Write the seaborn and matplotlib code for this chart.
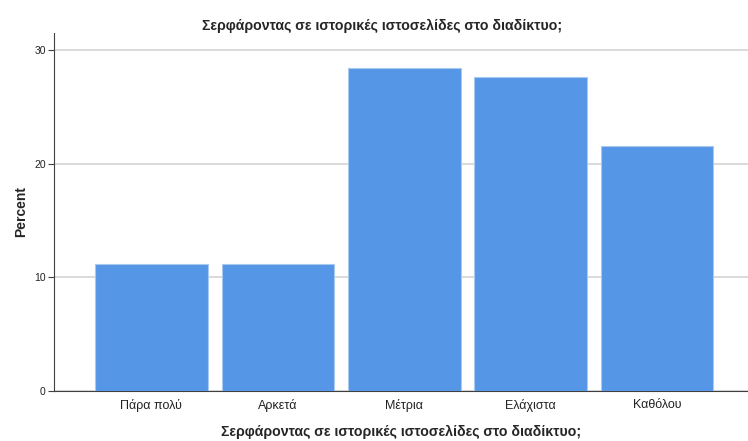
import pandas as pd
import matplotlib
matplotlib.use('Agg')
import matplotlib.pyplot as plt
import seaborn as sns

categories = ['Πάρα πολύ', 'Αρκετά', 'Μέτρια', 'Ελάχιστα', 'Καθόλου']
percent = [11.2, 11.2, 28.4, 27.6, 21.6]
yticks = [0, 10, 20, 30]
title = 'Σερφάροντας σε ιστορικές ιστοσελίδες στο διαδίκτυο;'

sns.set_theme(style='white')
plt.rcParams['font.family'] = ['Liberation Sans', 'DejaVu Sans']

df = pd.DataFrame({'answer': categories, 'percent': percent})

fig = plt.figure(figsize=(7.48, 4.41), dpi=100)
ax = fig.add_axes([0.0722, 0.1134, 0.928, 0.8118])

sns.barplot(data=df, x='answer', y='percent', order=categories, color='#5596e6',
            width=0.89, edgecolor='#a9c9f1', linewidth=0.8, saturation=1, ax=ax, zorder=3)

ax.set_xlim(-0.77, 4.72)
ax.set_ylim(0, 31.5)
ax.set_yticks(yticks)
ax.yaxis.grid(True, color='#d4d4d4', linewidth=1.2, zorder=0)
ax.set_axisbelow(True)

for side in ['top', 'right']:
    ax.spines[side].set_visible(False)
ax.spines['left'].set_color('#404040')
ax.spines['bottom'].set_color('#404040')
ax.spines['left'].set_linewidth(0.8)
ax.spines['bottom'].set_linewidth(0.8)

ax.tick_params(axis='y', length=4, width=0.8, color='#404040', labelsize=7.5, labelcolor='#222222', pad=2, left=True)
ax.tick_params(axis='x', length=0, labelsize=9, labelcolor='#222222', pad=6)

ax.set_ylabel('Percent', fontsize=10, fontweight='bold', labelpad=4)
ax.set_xlabel(title, fontsize=10.2, fontweight='bold', labelpad=9)
fig.suptitle(title, fontsize=10.2, fontweight='bold', x=0.511, y=0.956)

fig.savefig('out.png', dpi=100)
